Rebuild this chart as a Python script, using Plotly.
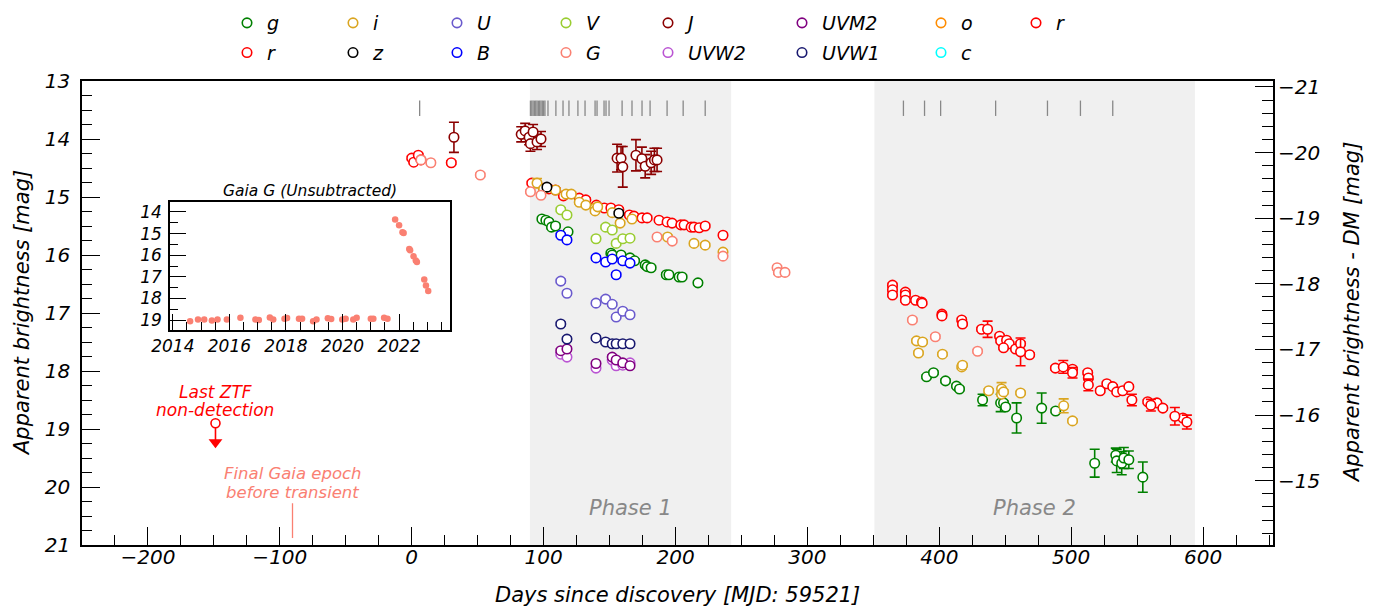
import plotly.graph_objects as go

# ---------------- data ----------------
g_days = [98.7, 101.7, 104, 106, 109, 118.5, 151, 152, 158.7, 165.5, 169, 177, 178.5, 181.5, 193, 195, 202.7, 205, 217,
          390.3, 395.6, 404.7, 413, 415.3, 432.8, 446.5, 448.7, 450.3, 458.6, 477.6, 488.2,
          517.8, 533.8, 534.5, 538.3, 539.9, 543.7, 554.3]
g_mag = [15.38, 15.40, 15.43, 15.52, 15.50, 15.60, 15.97, 16.00, 16.00, 16.05, 16.10, 16.17, 16.20, 16.22, 16.34, 16.34, 16.38, 16.38, 16.48,
         18.10, 18.03, 18.17, 18.26, 18.31, 18.50, 18.55, 18.55, 18.62, 18.81, 18.64, 18.69,
         19.59, 19.45, 19.55, 19.59, 19.50, 19.53, 19.83]
g_err = [0.03] * 19 + [0.03, 0.03, 0.03, 0.03, 0.03, 0.10, 0.15, 0.03, 0.03, 0.26, 0.26, 0.03,
                       0.24, 0.12, 0.20, 0.20, 0.18, 0.15, 0.26]

r_days = [0, 1.5, 5, 7, 30, 91, 100, 104, 109, 115, 127, 132, 140, 146, 151, 157, 165, 168.5, 174.6, 178.5, 187.5,
          193.6, 197.4, 204, 206.5, 211.8, 214, 218, 222.5, 236,
          364.5, 364.5, 364.5, 374.3, 374.3, 374.3, 382, 386.5, 387, 402, 402, 417, 417.6, 432, 445.7, 446.5, 451, 453,
          448.7, 457.8, 461.6, 468.5, 488, 501, 512.5, 513, 522, 527, 531.5, 534.5, 539, 543.7, 558, 565, 569.5, 584.7]
r_mag = [14.33, 14.40, 14.28, 14.36, 14.41, 14.76, 14.85, 14.86, 14.88, 14.98, 15.02, 15.05, 15.14, 15.19, 15.19, 15.22, 15.31, 15.33, 15.36, 15.36, 15.40,
         15.43, 15.45, 15.48, 15.48, 15.52, 15.52, 15.53, 15.50, 15.66,
         16.52, 16.60, 16.69, 16.64, 16.69, 16.78, 16.78, 16.81, 16.83, 17.02, 17.05, 17.12, 17.19, 17.28, 17.40, 17.48, 17.47, 17.53,
         17.60, 17.62, 17.53, 17.72, 17.95, 17.97, 18.03, 18.12, 18.34, 18.22, 18.27, 18.36, 18.34, 18.27, 18.53, 18.55, 18.64, 18.81]
r_err = [0.03] * len(r_days)

i_days = [95, 100, 109, 117, 121, 127, 132, 139, 139, 141, 152, 158, 167, 194, 214, 222.5, 236,
          382.7, 384.2, 387.3, 402.4, 417, 417.6, 437.4, 447.2, 447.2, 448.7, 461.6, 494.3, 501]
i_mag = [14.76, 14.86, 14.88, 14.95, 14.95, 15.09, 15.14, 15.19, 15.24, 15.17, 15.27, 15.45, 15.38, 15.69, 15.80, 15.83, 15.95,
         17.48, 17.69, 17.50, 17.71, 17.93, 17.90, 18.34, 18.31, 18.40, 18.36, 18.38, 18.60, 18.86]
i_err = [0.08] + [0.03] * 23 + [0.11, 0.03, 0.03, 0.03, 0.12, 0.03]

z_days = [102.5, 157]
z_mag = [14.83, 15.28]
z_err = [0.03, 0.03]

U_days = [113, 117.7, 139.7, 147, 152, 155, 160, 165.5]
U_mag = [16.45, 16.66, 16.83, 16.76, 16.85, 17.07, 16.97, 17.03]

B_days = [113, 117.7, 139.7, 147, 152, 155, 160, 165.5]
B_mag = [15.66, 15.74, 16.05, 16.12, 16.07, 16.34, 16.10, 16.14]

V_days = [113, 117.7, 139.7, 147, 152, 155, 160, 165.5]
V_mag = [15.22, 15.31, 15.72, 15.52, 15.57, 15.80, 15.72, 15.71]

G_days = [7, 14.5, 52, 90, 98, 186, 197.5, 236, 277, 278, 283, 379.6, 397, 429]
G_mag = [14.36, 14.41, 14.62, 14.91, 14.97, 15.69, 15.76, 16.02, 16.22, 16.30, 16.30, 17.12, 17.41, 17.66]

J_days = [32, 83, 86, 89, 90, 92, 95, 98, 155.7, 158.7, 160, 170, 174.5, 177, 181.5, 184, 186]
J_mag = [13.97, 13.92, 13.86, 13.97, 14.08, 13.88, 14.05, 14.00, 14.33, 14.33, 14.48, 14.28, 14.34, 14.47, 14.41, 14.36, 14.36]
J_err = [0.26, 0.13, 0.13, 0.13, 0.13, 0.13, 0.13, 0.13, 0.24, 0.20, 0.35, 0.27, 0.20, 0.20, 0.20, 0.20, 0.20]

UVW2_days = [113, 117.7, 139.7, 152, 155, 160, 165.5]
UVW2_mag = [17.71, 17.76, 17.95, 17.81, 17.91, 17.90, 17.86]

UVM2_days = [113, 117.7, 139.7, 152, 155, 160, 165.5]
UVM2_mag = [17.65, 17.62, 17.87, 17.76, 17.81, 17.86, 17.91]

UVW1_days = [113, 117.7, 139.7, 147, 152, 155, 160, 165.5]
UVW1_mag = [17.19, 17.45, 17.43, 17.50, 17.53, 17.53, 17.53, 17.53]

o_days, o_mag = [None], [None]
c_days, c_mag = [None], [None]

r2_days = [436.6, 461.6, 494, 501, 513, 546, 560.4, 578.6, 587.7]
r2_mag = [17.28, 17.67, 17.93, 18.03, 18.24, 18.50, 18.59, 18.78, 18.88]
r2_err = [0.14, 0.24, 0.11, 0.09, 0.10, 0.10, 0.10, 0.15, 0.12]

spectra_days = [6, 90, 91, 92, 93, 94, 95, 96, 97, 98, 99, 100, 101, 103.3, 109.3, 114.7, 119.2, 126, 131.4, 139,
                140.5, 145.8, 147.3, 149.6, 159.5, 167, 174.6, 180.7, 193.6, 205.8, 222.5,
                372.8, 388.8, 401, 442.7, 482, 507, 531.5]

ztf_limit_day, ztf_limit_mag = -148.8, 18.90
gaia_last_day = -90.4

phase1 = (89.6, 242.2)
phase2 = (350.8, 593.8)

gaia_year = [2014.61, 2014.89, 2015.11, 2015.38, 2015.58, 2015.91, 2016.39, 2016.92, 2017.04, 2017.43, 2017.55, 2017.95,
             2018.04, 2018.46, 2018.57, 2018.96, 2019.08, 2019.48, 2019.60, 2019.99, 2020.11, 2020.38, 2020.50, 2021.00,
             2021.09, 2021.47, 2021.59,
             2021.86, 2022.00, 2022.12, 2022.16, 2022.36, 2022.39, 2022.51, 2022.59, 2022.63, 2022.89, 2022.95, 2023.03]
gaia_mag = [19.05, 18.97, 18.97, 19.02, 18.97, 18.97, 18.89, 18.97, 19.00, 18.88, 18.97, 18.94,
            18.91, 18.94, 18.94, 19.05, 18.97, 18.92, 18.95, 18.97, 18.94, 18.97, 18.89, 18.94,
            18.94, 18.89, 18.94,
            14.35, 14.62, 14.94, 14.97, 15.71, 15.77, 16.05, 16.25, 16.32, 17.12, 17.40, 17.66]

# ---------------- figure ----------------
FONT = "DejaVu Sans"
W, H = 1379, 608
L, R, T, B = 82, 1273, 81, 545

fig = go.Figure()


def band(x, y, err, color, name, legend, group, cap=5):
    if err is None:
        err = [0.03] * len(x)
    fig.add_trace(go.Scatter(
        x=x, y=y, mode="markers", name=name, legend=legend, legendgroup=group,
        marker=dict(symbol="circle", size=9.5, color="white", line=dict(color=color, width=1.6)),
        error_y=dict(type="data", array=err, color=color, thickness=1.6, width=cap),
        hoverinfo="skip"))


band(g_days, g_mag, g_err, "#008000", "g", "legend", "g")
band(r_days, r_mag, r_err, "#ff0000", "r", "legend", "r")
band(i_days, i_mag, i_err, "#daa520", "i", "legend2", "i")
band(z_days, z_mag, z_err, "#000000", "z", "legend2", "z")
band(U_days, U_mag, None, "#6a5acd", "U", "legend3", "U")
band(B_days, B_mag, None, "#0000ff", "B", "legend3", "B")
band(V_days, V_mag, None, "#9acd32", "V", "legend4", "V")
band(G_days, G_mag, None, "#fa8072", "G", "legend4", "G")
band(J_days, J_mag, J_err, "#8b0000", "J", "legend5", "J")
band(UVW2_days, UVW2_mag, None, "#ba55d3", "UVW2", "legend5", "UVW2")
band(UVM2_days, UVM2_mag, None, "#800080", "UVM2", "legend6", "UVM2")
band(UVW1_days, UVW1_mag, None, "#191970", "UVW1", "legend6", "UVW1")
band(o_days, o_mag, [0.0], "#ff8c00", "o", "legend7", "o")
band(c_days, c_mag, [0.0], "#00ffff", "c", "legend7", "c")
band(r2_days, r2_mag, r2_err, "#ff0000", "r", "legend8", "r2")

# spectral epochs
fig.add_trace(go.Scatter(
    x=spectra_days, y=[13.47] * len(spectra_days), mode="markers", showlegend=False, hoverinfo="skip",
    marker=dict(symbol="line-ns", size=11, line=dict(width=1.3, color="#888888"))))

# last ZTF non-detection (upper limit)
fig.add_trace(go.Scatter(
    x=[ztf_limit_day, ztf_limit_day], y=[ztf_limit_mag, ztf_limit_mag + 0.4], mode="lines",
    line=dict(color="#ff0000", width=1.6), showlegend=False, hoverinfo="skip"))
fig.add_trace(go.Scatter(
    x=[ztf_limit_day], y=[ztf_limit_mag + 0.33], mode="markers", showlegend=False, hoverinfo="skip",
    marker=dict(symbol="triangle-down", size=12, color="#ff0000", line=dict(width=0))))
fig.add_trace(go.Scatter(
    x=[ztf_limit_day], y=[ztf_limit_mag], mode="markers", showlegend=False, hoverinfo="skip",
    marker=dict(symbol="circle", size=9, color="white", line=dict(color="#ff0000", width=1.6))))

# final Gaia epoch marker
fig.add_trace(go.Scatter(
    x=[gaia_last_day, gaia_last_day], y=[20.28, 20.88], mode="lines",
    line=dict(color="#fa8072", width=1.3), showlegend=False, hoverinfo="skip"))

# helper for right axis
fig.add_trace(go.Scatter(x=[0], y=[-17], yaxis="y2", mode="markers", marker=dict(opacity=0),
                         showlegend=False, hoverinfo="skip"))

# inset Gaia
fig.add_trace(go.Scatter(
    x=gaia_year, y=gaia_mag, xaxis="x3", yaxis="y3", mode="markers", showlegend=False, hoverinfo="skip",
    marker=dict(symbol="circle", size=6.5, color="#fa8072", line=dict(width=0))))

# phase shading
for (a, b) in (phase1, phase2):
    fig.add_shape(type="rect", xref="x", yref="paper", x0=a, x1=b, y0=0, y1=1,
                  fillcolor="#f0f0f0", line=dict(width=0), layer="below")


def italic(size, color="black"):
    return dict(family=FONT, size=size, color=color, style="italic")


ann = [
    dict(x=(phase1[0] + phase1[1]) / 2, y=20.36, text="Phase 1", font=italic(21, "#888888")),
    dict(x=(phase2[0] + phase2[1]) / 2, y=20.36, text="Phase 2", font=italic(21, "#888888")),
    dict(x=ztf_limit_day, y=18.36, text="Last ZTF", font=italic(17, "#ff0000")),
    dict(x=ztf_limit_day, y=18.67, text="non-detection", font=italic(17, "#ff0000")),
    dict(x=gaia_last_day, y=19.76, text="Final Gaia epoch", font=italic(16.5, "#fa8072")),
    dict(x=gaia_last_day, y=20.09, text="before transient", font=italic(16.5, "#fa8072")),
]
for a in ann:
    fig.add_annotation(xref="x", yref="y", showarrow=False, xanchor="center", yanchor="middle", **a)
fig.add_annotation(xref="x3 domain", yref="y3 domain", x=0.5, y=1.0, yanchor="bottom", showarrow=False,
                   text="Gaia G (Unsubtracted)", font=italic(15.5))

# axis titles as paper annotations
PW, PH = R - L, B - T
fig.add_annotation(xref="paper", yref="paper", x=0.5, y=(B - 595) / PH, showarrow=False,
                   xanchor="center", yanchor="middle", text="Days since discovery [MJD: 59521]", font=italic(21))
fig.add_annotation(xref="paper", yref="paper", x=(22 - L) / PW, y=0.5, showarrow=False, textangle=-90,
                   xanchor="center", yanchor="middle", text="Apparent brightness [mag]", font=italic(21))
fig.add_annotation(xref="paper", yref="paper", x=(1352 - L) / PW, y=0.5, showarrow=False, textangle=-90,
                   xanchor="center", yanchor="middle", text="Apparent brightness - DM [mag]", font=italic(21))

axis_common = dict(showgrid=False, zeroline=False, showline=True, linecolor="black", linewidth=1.5,
                   ticks="inside", tickcolor="black", tickwidth=1.3, ticklen=18, automargin=False)

inset_x0, inset_x1 = (170 - L) / PW, (450 - L) / PW
inset_y0, inset_y1 = (B - 330) / PH, (B - 202) / PH

fig.update_layout(
    width=W, height=H, margin=dict(l=L, r=W - R, t=T, b=H - B, autoexpand=False),
    plot_bgcolor="white", paper_bgcolor="white",
    font=dict(family=FONT),
    xaxis=dict(axis_common, domain=[0, 1], range=[-250, 653], dtick=100, tick0=0, mirror=True,
               minor=dict(dtick=25, ticklen=10, ticks="inside", tickcolor="black", tickwidth=1),
               tickfont=italic(20), ticklabelstandoff=-7),
    yaxis=dict(axis_common, domain=[0, 1], range=[21, 13], dtick=1, tick0=13, mirror=True,
               minor=dict(dtick=0.25, ticklen=10, ticks="inside", tickcolor="black", tickwidth=1),
               tickfont=italic(20), ticklabelstandoff=6),
    yaxis2=dict(overlaying="y", side="right", anchor="x", range=[-14.02, -21.09], dtick=1, tick0=-21,
                showgrid=False, zeroline=False, showline=False, ticks="inside", tickcolor="black",
                tickwidth=1.3, ticklen=18, automargin=False,
                minor=dict(dtick=0.2, ticklen=11, ticks="inside", tickcolor="black", tickwidth=1),
                tickfont=italic(20), ticklabelstandoff=4),
    xaxis3=dict(axis_common, domain=[inset_x0, inset_x1], anchor="y3", range=[2013.9, 2023.8],
                dtick=2, tick0=2014, mirror=True, ticklen=16,
                minor=dict(dtick=0.5, ticklen=8, ticks="inside", tickcolor="black", tickwidth=1),
                tickfont=italic(17)),
    yaxis3=dict(axis_common, domain=[inset_y0, inset_y1], anchor="x3", range=[19.46, 13.54],
                dtick=1, tick0=14, mirror=True, ticklen=16,
                minor=dict(dtick=0.5, ticklen=8, ticks="inside", tickcolor="black", tickwidth=1),
                tickfont=italic(17), ticklabelstandoff=3),
)

# legends: one per column
leg_cols = [247, 353, 457, 566, 668, 802, 941, 1036]
names = ["legend", "legend2", "legend3", "legend4", "legend5", "legend6", "legend7", "legend8"]
for nm, px in zip(names, leg_cols):
    fig.update_layout({nm: dict(xref="container", yref="container", x=(px - 20) / W, y=1 - 4 / H,
                                xanchor="left", yanchor="top", bgcolor="rgba(0,0,0,0)",
                                font=italic(19), traceorder="grouped", tracegroupgap=2,
                                itemwidth=30)})

fig.write_html("out.html")
